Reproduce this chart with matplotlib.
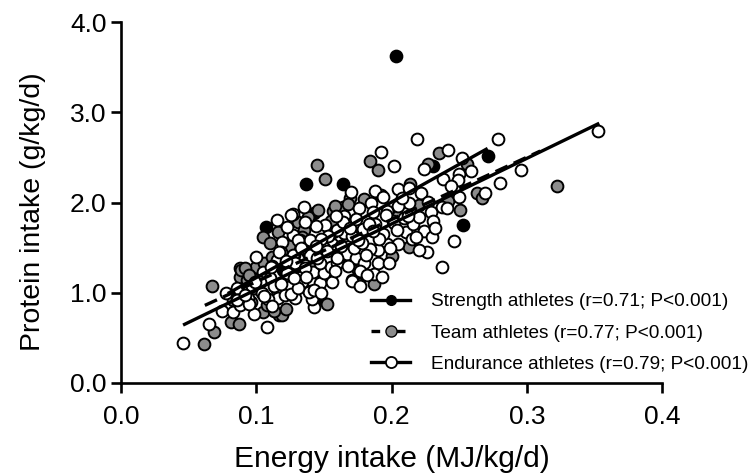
import matplotlib
matplotlib.use("Agg")
import matplotlib.pyplot as plt
from matplotlib.lines import Line2D

# valores
strength_x = [0.203, 0.137, 0.164, 0.143, 0.107, 0.271, 0.253, 0.231, 0.147,
              0.120, 0.150, 0.130, 0.110, 0.100, 0.160, 0.140]
strength_y = [3.62, 2.21, 2.20, 1.88, 1.73, 2.51, 1.75, 2.40, 0.94,
              1.25, 1.50, 1.30, 1.15, 1.05, 1.75, 1.45]

team_x = [0.145, 0.151, 0.184, 0.190, 0.235, 0.227, 0.256, 0.322, 0.263, 0.267, 0.251, 0.213,
          0.200, 0.220, 0.242, 0.214, 0.169, 0.157, 0.164, 0.067, 0.069, 0.061, 0.081, 0.087,
          0.117, 0.152, 0.088, 0.093, 0.088, 0.100, 0.106, 0.105, 0.110, 0.115, 0.105, 0.093,
          0.116, 0.131, 0.089, 0.092, 0.187, 0.119, 0.125, 0.135, 0.150, 0.175, 0.205, 0.098,
          0.096, 0.108, 0.122, 0.128, 0.138, 0.146, 0.112, 0.102, 0.155, 0.168, 0.180, 0.192,
          0.124, 0.134, 0.142, 0.176, 0.158, 0.083, 0.095, 0.113]
team_y = [2.42, 2.26, 2.46, 2.36, 2.55, 2.43, 2.43, 2.18, 2.10, 2.05, 1.92, 1.51,
          1.41, 1.97, 2.02, 2.21, 2.05, 1.91, 1.95, 1.08, 0.56, 0.43, 0.68, 0.65,
          0.75, 0.88, 1.27, 1.22, 1.17, 1.28, 1.33, 1.62, 1.55, 1.03, 0.79, 1.14,
          1.67, 1.78, 1.25, 1.27, 1.10, 0.75, 1.10, 1.70, 1.20, 1.25, 1.85, 1.05,
          0.90, 0.86, 0.82, 1.42, 1.84, 1.92, 1.40, 1.15, 1.80, 1.98, 2.04, 2.08,
          1.52, 1.62, 1.30, 1.10, 1.96, 0.92, 1.20, 0.80]

endurance_x = [0.046, 0.065, 0.108, 0.075, 0.083, 0.098, 0.143, 0.129, 0.141, 0.116, 0.109, 0.112,
               0.124, 0.134, 0.147, 0.156, 0.142, 0.150, 0.155, 0.166, 0.171, 0.140, 0.119, 0.118,
               0.105, 0.132, 0.140, 0.127, 0.156, 0.127, 0.138, 0.147, 0.154, 0.166, 0.078, 0.086,
               0.094, 0.097, 0.110, 0.123, 0.115, 0.353, 0.279, 0.219, 0.242, 0.192, 0.252, 0.202,
               0.224, 0.259, 0.296, 0.280, 0.269, 0.250, 0.238, 0.249, 0.244, 0.205, 0.213, 0.222,
               0.188, 0.194, 0.185, 0.170, 0.176, 0.165, 0.213, 0.205, 0.227, 0.250, 0.237, 0.241,
               0.229, 0.231, 0.224, 0.211, 0.216, 0.246, 0.237, 0.226, 0.220, 0.205, 0.197, 0.190,
               0.184, 0.194, 0.179, 0.165, 0.157, 0.167, 0.174, 0.180, 0.190, 0.198, 0.160, 0.220,
               0.201, 0.177, 0.187, 0.171, 0.177, 0.139, 0.121, 0.135, 0.127, 0.151, 0.144, 0.160,
               0.188, 0.202, 0.153, 0.171, 0.129, 0.140, 0.115, 0.126, 0.123, 0.131, 0.117, 0.088,
               0.143, 0.148, 0.160, 0.172, 0.182, 0.193, 0.104, 0.113, 0.136, 0.103, 0.126, 0.150,
               0.164, 0.178, 0.186, 0.197, 0.209, 0.215, 0.095, 0.086, 0.100, 0.208, 0.230, 0.112,
               0.092, 0.099, 0.106, 0.118, 0.131, 0.137, 0.145, 0.152, 0.163, 0.169, 0.175, 0.183,
               0.191, 0.196, 0.204, 0.212, 0.133, 0.122, 0.111, 0.158, 0.168, 0.181, 0.199, 0.218,
               0.148, 0.159, 0.128, 0.144, 0.136, 0.174, 0.186, 0.232]
endurance_y = [0.44, 0.65, 0.62, 0.80, 0.79, 0.77, 0.84, 0.94, 0.93, 0.94, 0.93, 0.85,
               1.06, 1.12, 1.11, 1.12, 1.23, 1.22, 1.28, 1.42, 1.14, 1.02, 1.56, 1.45,
               1.23, 1.58, 1.58, 1.64, 1.54, 1.42, 1.44, 1.33, 1.64, 1.64, 1.00, 1.05,
               0.94, 1.08, 1.16, 1.22, 1.36, 2.79, 2.70, 2.70, 2.58, 2.56, 2.49, 2.40,
               2.37, 2.35, 2.36, 2.22, 2.10, 2.32, 2.26, 2.25, 2.18, 2.15, 2.16, 2.10,
               2.13, 2.06, 2.00, 2.12, 1.94, 1.85, 1.99, 1.96, 2.01, 2.06, 1.95, 1.94,
               1.89, 1.79, 1.68, 1.67, 1.76, 1.57, 1.28, 1.45, 1.47, 1.54, 1.54, 1.47,
               1.48, 1.65, 1.71, 1.66, 1.67, 1.43, 1.39, 1.33, 1.33, 1.33, 1.33, 1.84,
               1.80, 1.24, 1.21, 1.13, 1.07, 1.01, 0.97, 1.95, 1.87, 1.75, 1.74, 1.69,
               1.76, 1.77, 1.63, 1.63, 1.33, 1.42, 1.81, 1.86, 1.73, 1.58, 1.45, 0.86,
               1.03, 1.00, 1.38, 1.50, 1.20, 1.18, 1.00, 1.08, 1.27, 1.12, 0.99, 1.50,
               1.78, 1.55, 1.90, 1.91, 1.83, 1.60, 0.88, 0.92, 1.40, 2.05, 1.62, 1.30,
               0.98, 1.12, 0.96, 1.10, 1.05, 1.18, 1.38, 1.46, 1.52, 1.72, 1.58, 1.76,
               1.60, 1.86, 1.70, 1.85, 1.50, 1.35, 1.28, 1.24, 1.30, 1.42, 1.50, 1.62,
               1.60, 1.85, 1.16, 1.52, 1.78, 1.82, 1.68, 1.72]

strength_line_x = [0.08, 0.27]
strength_line_y = [1.00, 2.59]
team_line_x = [0.062, 0.31]
team_line_y = [0.86, 2.57]
endurance_line_x = [0.047, 0.3525]
endurance_line_y = [0.65, 2.87]

legend_labels = ["Strength athletes (r=0.71; P<0.001)",
                 "Team athletes (r=0.77; P<0.001)",
                 "Endurance athletes (r=0.79; P<0.001)"]
x_ticks = [0.0, 0.1, 0.2, 0.3, 0.4]
y_ticks = [0.0, 1.0, 2.0, 3.0, 4.0]

plt.rcParams["font.family"] = ["Liberation Sans", "DejaVu Sans"]

fig = plt.figure(figsize=(7.54, 4.74), dpi=100)
ax = fig.add_axes([121 / 754, 1 - 383 / 474, 541 / 754, 361 / 474])

punto = dict(s=72, edgecolors="black", linewidths=1.4, clip_on=False)
ax.scatter(strength_x, strength_y, c="black", zorder=2, **punto)
ax.scatter(team_x, team_y, c="#8c8c8c", zorder=3, **punto)
ax.scatter(endurance_x, endurance_y, c="white", zorder=4, **punto)
# las lineas quedan por encima de casi todos los puntos
ax.plot(strength_line_x, strength_line_y, color="black", lw=2.4, zorder=5)
ax.plot(team_line_x, team_line_y, color="black", lw=2.4, ls=(0, (4, 2)), zorder=5)
ax.plot(endurance_line_x, endurance_line_y, color="black", lw=2.4, zorder=5)

ax.set_xlim(0, 0.4)
ax.set_ylim(0, 4)
ax.set_xticks(x_ticks, [f"{t:.1f}" for t in x_ticks])
ax.set_yticks(y_ticks, [f"{t:.1f}" for t in y_ticks])
ax.tick_params(width=1.9, length=7.5, labelsize=19, color="black")
ax.tick_params(axis="x", pad=8)
ax.tick_params(axis="y", pad=3)
for lado in ["top", "right"]:
    ax.spines[lado].set_visible(False)
for lado in ["left", "bottom"]:
    ax.spines[lado].set_linewidth(1.9)
ax.set_xlabel("Energy intake (MJ/kg/d)", fontsize=21.5, labelpad=12)
ax.set_ylabel("Protein intake (g/kg/d)", fontsize=20.5, labelpad=17, y=0.475)

handles = [
    Line2D([], [], color="black", lw=2.4, marker="o", ms=7, mfc="black", mec="black"),
    Line2D([], [], color="black", lw=2.4, ls=(0, (2.6, 5)), marker="o", ms=8, mfc="#8c8c8c", mec="black"),
    Line2D([], [], color="black", lw=2.4, marker="o", ms=8, mfc="white", mec="black", mew=1.3),
]
ax.legend(handles, legend_labels, frameon=False, fontsize=13.7, loc="lower left",
          bbox_to_anchor=(240 / 541, 0.0), handlelength=2.05, handletextpad=1.1,
          labelspacing=0.72, borderpad=0.0, borderaxespad=0.55)

fig.savefig("out.png", dpi=100)
